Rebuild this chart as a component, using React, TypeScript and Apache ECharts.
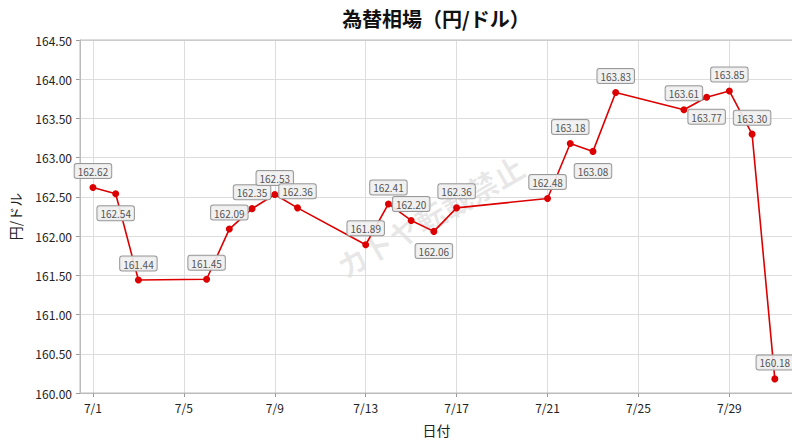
import React, { useEffect, useRef } from "react";
import * as echarts from "echarts";

const titleText = "為替相場（円/ドル）";
const xAxisName = "日付";
const yAxisName = "円/ドル";
const watermarkText = "カトヤ転載禁止";

// day of July
const days = [1, 2, 3, 6, 7, 8, 9, 10, 13, 14, 15, 16, 17, 21, 22, 23, 24, 27, 28, 29, 30, 31];
const rates = [
  162.62, 162.54, 161.44, 161.45, 162.09, 162.35, 162.53, 162.36, 161.89, 162.41, 162.2,
  162.06, 162.36, 162.48, 163.18, 163.08, 163.83, 163.61, 163.77, 163.85, 163.3, 160.18,
];
// label below the point for these days
const belowDays = [2, 16, 23, 28];
const xTickDays = [1, 5, 9, 13, 17, 21, 25, 29];

const FONT = "'Noto Sans CJK JP', 'Noto Sans', sans-serif";

export default function App() {
  const ref = useRef<HTMLDivElement>(null);
  useEffect(() => {
    if (!ref.current) return;
    const chart = echarts.init(ref.current, undefined, { renderer: "svg" });
    const data = days.map((d, i) => {
      const below = belowDays.includes(d);
      return {
        value: [d, rates[i]],
        label: {
          position: below ? "bottom" : "top",
          distance: below ? 9 : 6,
        },
      };
    });
    chart.setOption({
      animation: false,
      backgroundColor: "#ffffff",
      graphic: [
        {
          type: "text",
          x: 436,
          y: 18,
          z: 10,
          silent: true,
          style: {
            text: titleText,
            fontFamily: FONT,
            fontSize: 20,
            fontWeight: "bold",
            fill: "#111",
            align: "center",
            verticalAlign: "middle",
          },
        },
        {
          type: "text",
          x: 430,
          y: 216,
          rotation: Math.PI / 6,
          z: 0,
          silent: true,
          style: {
            text: watermarkText,
            fontFamily: FONT,
            fontSize: 30,
            fontWeight: "bold",
            fill: "rgba(0,0,0,0.09)",
            align: "center",
            verticalAlign: "middle",
          },
        },
      ],
      grid: { left: 79, right: 7, top: 40, bottom: 54, show: true, borderColor: "#bbbbbb", borderWidth: 1, z: 1 },
      xAxis: {
        type: "value",
        min: 0.43,
        max: 31.8,
        name: xAxisName,
        nameLocation: "middle",
        nameGap: 30,
        nameTextStyle: { fontFamily: FONT, fontSize: 14, color: "#222" },
        axisLine: { show: true, lineStyle: { color: "#bbbbbb" } },
        axisTick: { show: true, length: 4, lineStyle: { color: "#999" }, customValues: xTickDays },
        axisLabel: {
          customValues: xTickDays,
          formatter: (v: number) => "7/" + v,
          fontFamily: FONT,
          fontSize: 12,
          color: "#222",
          margin: 8,
        },
        splitLine: { show: true, lineStyle: { color: "#dddddd", width: 1 } },
      },
      yAxis: {
        type: "value",
        min: 160,
        max: 164.5,
        interval: 0.5,
        name: yAxisName,
        nameLocation: "middle",
        nameGap: 58,
        nameTextStyle: { fontFamily: FONT, fontSize: 14, color: "#222" },
        axisLine: { show: true, lineStyle: { color: "#bbbbbb" } },
        axisTick: { show: true, length: 4, lineStyle: { color: "#999" } },
        axisLabel: {
          formatter: (v: number) => v.toFixed(2),
          fontFamily: FONT,
          fontSize: 12,
          color: "#222",
          margin: 8,
        },
        splitLine: { show: true, lineStyle: { color: "#dddddd", width: 1 } },
      },
      series: [
        {
          type: "line",
          data,
          z: 3,
          symbol: "circle",
          symbolSize: 7,
          lineStyle: { color: "#dd0000", width: 1.6 },
          itemStyle: { color: "#dd0000" },
          label: {
            show: true,
            formatter: (p: any) => p.value[1].toFixed(2),
            fontFamily: FONT,
            fontSize: 10,
            lineHeight: 11,
            color: "#555",
            backgroundColor: "rgba(240,240,240,0.9)",
            borderColor: "#999",
            borderWidth: 1,
            borderRadius: 2,
            padding: [2, 3, 1, 3],
          },
        },
      ],
    });
    return () => chart.dispose();
  }, []);
  return <div ref={ref} style={{ width: 800, height: 447, margin: -8 }} />;
}
